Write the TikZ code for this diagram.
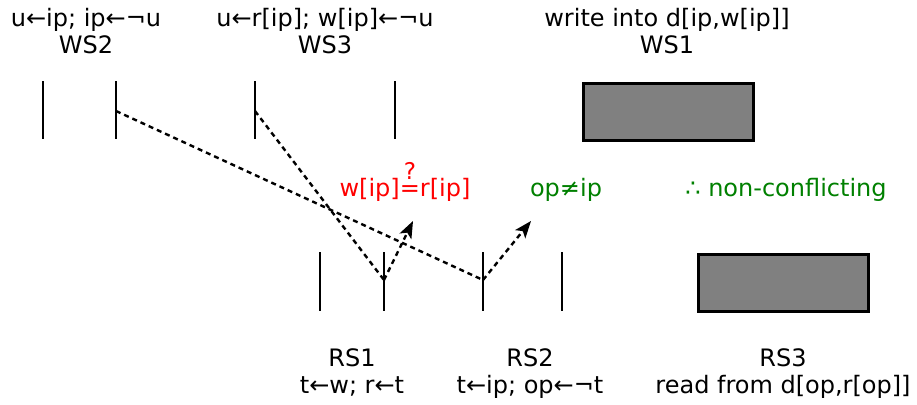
\documentclass[tikz,border=0pt]{standalone}
\usepackage{fontspec}
\setmainfont{DejaVu Sans}
\usetikzlibrary{arrows.meta, positioning}

% "?" set over "=" for the tested equality
\newcommand{\qeq}{\ooalign{\hfil\raisebox{17pt}{\fontsize{23}{23}\selectfont ?}\hfil\cr=}}

\begin{document}
\begin{tikzpicture}[
		x=1pt, y=-1pt,
		font=\fontsize{24}{27}\selectfont,
		% Styles
		stepBar/.style={line width=2.5pt},
		blockBox/.style={draw=black, fill=gray, line width=2.5pt, minimum width=170pt, minimum height=57pt, anchor=north west},
		stepLabel/.style={align=center, anchor=base},
		flowLine/.style={dash pattern=on 5pt off 4pt, line width=2.4pt},
		flowArrow/.style={flowLine, -{Stealth[length=17pt, width=13pt, inset=4pt]}},
		noteText/.style={text=#1, anchor=base}
		]
		\useasboundingbox (0,0) rectangle (917,404);
		
		% =========================================================
		% 1. WRITE SIDE (top row)
		% =========================================================
		\coordinate (ws2a) at (43,81);
		\coordinate (ws2b) at (116,81);
		\coordinate (ws3a) at (255,81);
		\coordinate (ws3b) at (395,81);
		\foreach \bar in {ws2a, ws2b, ws3a, ws3b}
			\draw[stepBar] (\bar) -- ++(0,58);
		\node[blockBox] (ws1) at (582,82) {};
		
		\node[stepLabel] (ws2Label) at (86,54) {u←ip; ip←¬u\\WS2};
		\node[stepLabel] (ws3Label) at (325,54) {u←r[ip]; w[ip]←¬u\\WS3};
		\node[stepLabel] (ws1Label) at (667,54) {write into d[ip,w[ip]]\\WS1};
		
		% =========================================================
		% 2. READ SIDE (bottom row)
		% =========================================================
		\coordinate (rs1a) at (320,252);
		\coordinate (rs1b) at (384,252);
		\coordinate (rs2a) at (483,252);
		\coordinate (rs2b) at (562,252);
		\foreach \bar in {rs1a, rs1b, rs2a, rs2b}
			\draw[stepBar] (\bar) -- ++(0,59);
		\node[blockBox] (rs3) at (697,253) {};
		
		\node[stepLabel] (rs1Label) at (352,393) {RS1\\t←w; r←t};
		\node[stepLabel] (rs2Label) at (530,393) {RS2\\t←ip; op←¬t};
		\node[stepLabel] (rs3Label) at (783,393) {RS3\\read from d[op,r[op]]};
		
		% =========================================================
		% 3. DEPENDENCES BETWEEN STEPS
		% =========================================================
		\coordinate (ws2Out) at (116,111);
		\coordinate (ws3Out) at (255,111);
		\coordinate (rs1In) at (384,280);
		\coordinate (rs2In) at (483,280);
		\coordinate (rs1Tip) at (413,221);
		\coordinate (rs2Tip) at (531,221);
		
		\draw[flowLine] (ws2Out) -- (rs2In);
		\draw[flowLine] (ws3Out) -- (rs1In);
		\draw[flowArrow] (rs1In) -- (rs1Tip);
		\draw[flowArrow] (rs2In) -- (rs2Tip);
		
		% Conclusions
		\node[noteText=red] (sameIdx) at (405,196) {w[ip]\qeq r[ip]};
		\node[noteText=green!50!black] (diffIdx) at (566,196) {op≠ip};
		\node[noteText=green!50!black] (verdict) at (786,196) {∴ non-conflicting};
		
	\end{tikzpicture}
\end{document}
